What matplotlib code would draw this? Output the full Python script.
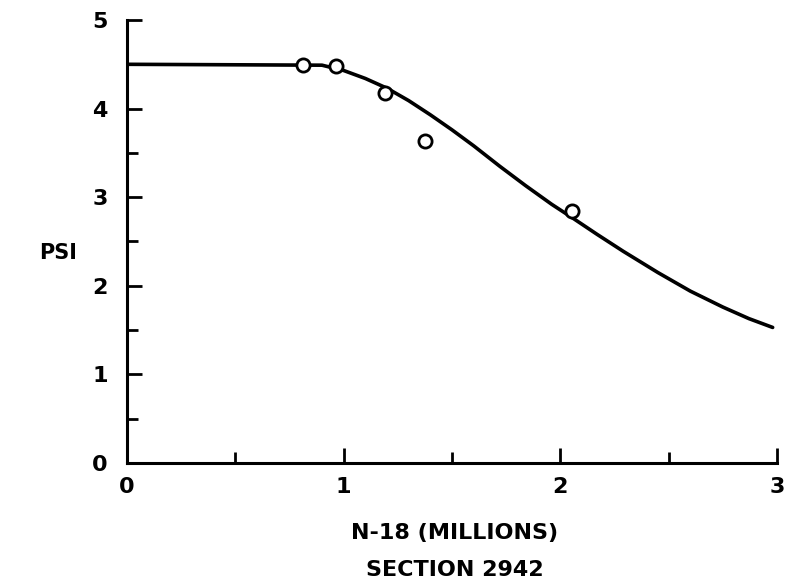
import matplotlib
matplotlib.use("Agg")
import matplotlib.pyplot as plt
from matplotlib.ticker import MultipleLocator

# Observed data points (N-18 in millions, PSI)
obs_x = [0.81, 0.965, 1.19, 1.375, 2.055]
obs_y = [4.49, 4.48, 4.18, 3.63, 2.84]

# Fitted curve
curve_x = [0.0, 0.90, 1.00, 1.10, 1.20, 1.30, 1.40, 1.50, 1.60, 1.72, 1.84,
           1.96, 2.06, 2.17, 2.29, 2.45, 2.60, 2.75, 2.87, 2.98]
curve_y = [4.50, 4.49, 4.43, 4.34, 4.23, 4.09, 3.93, 3.76, 3.58, 3.35, 3.13,
           2.92, 2.76, 2.58, 2.39, 2.15, 1.94, 1.76, 1.63, 1.53]

x_ticks = [0, 1, 2, 3]
y_ticks = [0, 1, 2, 3, 4, 5]

plt.rcParams['font.family'] = ['DejaVu Sans']

fig = plt.figure(figsize=(7.87, 5.87), dpi=100)
ax = fig.add_axes([127/787, (587-463)/587, 650/787, 443/587])

ax.plot(curve_x, curve_y, color='black', lw=2.6, solid_capstyle='round',
        solid_joinstyle='round', zorder=2)
ax.plot(obs_x, obs_y, 'o', ms=9.5, mfc='white', mec='black', mew=2.0, zorder=3,
        clip_on=False)

ax.set_xlim(0, 3)
ax.set_ylim(0, 5)
ax.spines['top'].set_visible(False)
ax.spines['right'].set_visible(False)
for s in ('left', 'bottom'):
    ax.spines[s].set_linewidth(2.2)

ax.set_xticks(x_ticks)
ax.set_yticks(y_ticks)
ax.xaxis.set_minor_locator(MultipleLocator(0.5))
ax.yaxis.set_minor_locator(MultipleLocator(0.5))
ax.tick_params(which='major', direction='in', length=11, width=2.0,
               labelsize=16, pad=10)
ax.tick_params(which='minor', direction='in', length=8, width=2.0)
ax.tick_params(axis='y', which='major', pad=14)
for lab in ax.get_xticklabels() + ax.get_yticklabels():
    lab.set_fontweight('bold')

ax.text(-0.23, 2.37, 'PSI', transform=ax.transData, ha='right', va='center',
        fontsize=15, fontweight='bold')

fig.text(455/787, 1 - 533/587, 'N-18 (MILLIONS)', ha='center', va='center',
         fontsize=16, fontweight='bold')
fig.text(455/787, 1 - 570/587, 'SECTION 2942', ha='center', va='center',
         fontsize=16, fontweight='bold')

fig.savefig('out.png', dpi=100)
